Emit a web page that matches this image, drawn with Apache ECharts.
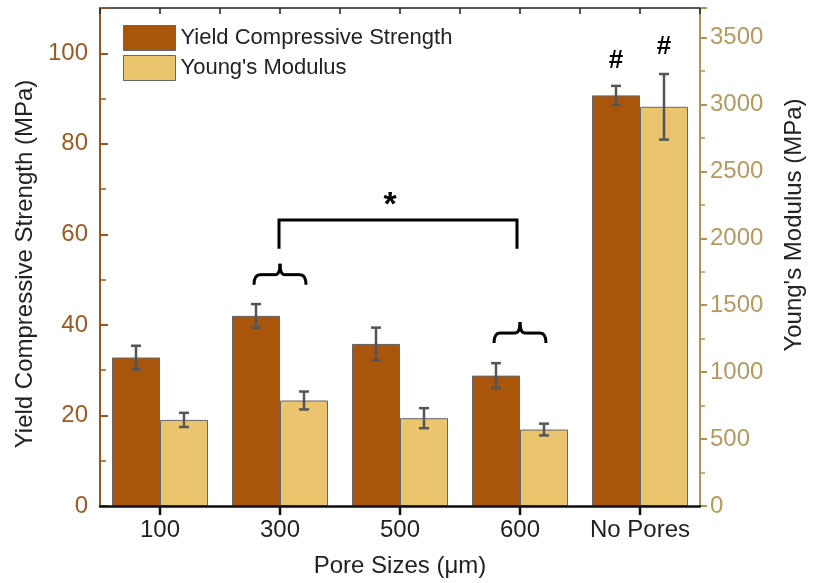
<!DOCTYPE html>
<html>
<head>
<meta charset="utf-8">
<script src="https://cdn.jsdelivr.net/npm/echarts@6/dist/echarts.min.js"></script>
<style>
  html, body { margin: 0; padding: 0; background: #fff; }
  #chart { width: 814px; height: 583px; }
</style>
</head>
<body>
<div id="chart"></div>
<script>
// data
const categories = ['100', '300', '500', '600', 'No Pores']
const yieldStrength = [32.8, 42.0, 35.8, 28.8, 90.7]
const yieldErr = [2.6, 2.6, 3.6, 2.75, 2.1]
const youngModulus = [643, 788, 656, 571, 2982]
const youngErr = [53, 67, 75, 44, 245]
const yieldMarks = ['', '', '', '', '#']
const youngMarks = ['', '', '', '', '#']

// significance annotations (category index, MPa on left axis)
const bracketCats = [1, 3]
const bracketLevels = [63.2, 56.8]
const braceCats = [1, 3]
const braceLevels = [51.1, 38.2]

const BROWN = '#AA550C'
const YELLOW = '#EBC56D'
const FONT = 'Liberation Sans, Arial, sans-serif'

const chart = echarts.init(document.getElementById('chart'))

// 误差棒: side = -1 left bar, +1 right bar
const errorBars = (vals, errs, side, yIdx) => ({
  type: 'custom',
  yAxisIndex: yIdx,
  z: 5,
  silent: true,
  data: vals.map((v, i) => [i, v - errs[i], v + errs[i]]),
  renderItem: (params, api) => {
    const band = api.size([1, 0])[0]
    const off = side * band * 0.2
    const lo = api.coord([api.value(0), api.value(1)])
    const hi = api.coord([api.value(0), api.value(2)])
    const x = lo[0] + off
    const st = { stroke: '#555', lineWidth: 2.5 }
    return {
      type: 'group',
      children: [
        { type: 'line', shape: { x1: x, y1: lo[1], x2: x, y2: hi[1] }, style: st },
        { type: 'line', shape: { x1: x - 5, y1: lo[1], x2: x + 5, y2: lo[1] }, style: st },
        { type: 'line', shape: { x1: x - 5, y1: hi[1], x2: x + 5, y2: hi[1] }, style: st }
      ]
    }
  }
})

const barData = (vals, marks, dist) => vals.map((v, i) => marks[i]
  ? { value: v, label: { show: true, formatter: marks[i], position: 'top', distance: dist,
      fontSize: 26, fontWeight: 'bold', color: '#000', fontFamily: FONT } }
  : v)

const option = {
  animation: false,
  textStyle: { fontFamily: FONT },
  grid: { left: 100, right: 112, top: 8, bottom: 77 },
  legend: {
    orient: 'vertical',
    left: 118,
    top: 20,
    icon: 'rect',
    itemWidth: 52,
    itemHeight: 25,
    itemGap: 4,
    itemStyle: { borderColor: '#666', borderWidth: 1 },
    textStyle: { fontSize: 22, color: '#222', fontFamily: FONT },
    data: ['Yield Compressive Strength', "Young's Modulus"]
  },
  xAxis: [
    {
      type: 'category',
      data: categories,
      position: 'bottom',
      z: 10,
      axisLine: { onZero: false, lineStyle: { color: '#111', width: 2.5 } },
      axisTick: { show: false },
      axisLabel: { interval: 0, fontSize: 24, color: '#222', margin: 12 },
      name: 'Pore Sizes (μm)',
      nameLocation: 'middle',
      nameGap: 48,
      nameTextStyle: { fontSize: 24, color: '#222' }
    },
    {
      type: 'value',
      position: 'top',
      min: -0.5,
      max: 4.5,
      interval: 0.5,
      axisLine: { onZero: false, lineStyle: { color: '#222', width: 1.5 } },
      axisTick: { inside: true, length: 6, lineStyle: { color: '#222', width: 1.5 } },
      axisLabel: { show: false },
      splitLine: { show: false }
    }
  ],
  yAxis: [
    {
      type: 'value',
      min: 0,
      max: 110,
      interval: 20,
      position: 'left',
      axisLine: { show: true, onZero: false, lineStyle: { color: '#9B5523', width: 2 } },
      axisTick: { show: true, inside: true, length: 8, lineStyle: { color: '#9B5523', width: 2 } },
      minorTick: { show: true, splitNumber: 2, length: 6, lineStyle: { color: '#9B5523', width: 1.5 } },
      axisLabel: { fontSize: 24, color: '#9C5A22', margin: 12,
        formatter: v => (v > 100 ? '' : v) },
      splitLine: { show: false },
      name: 'Yield Compressive Strength (MPa)',
      nameLocation: 'middle',
      nameGap: 62,
      nameTextStyle: { fontSize: 24, color: '#222', padding: [0, 14, 0, 0] }
    },
    {
      type: 'value',
      min: 0,
      max: 3720,
      interval: 500,
      position: 'right',
      axisLine: { show: true, onZero: false, lineStyle: { color: '#B0925A', width: 2 } },
      axisTick: { show: true, length: 7, lineStyle: { color: '#B0925A', width: 2 } },
      minorTick: { show: true, splitNumber: 2, length: 5, lineStyle: { color: '#B0925A', width: 1.5 } },
      axisLabel: { fontSize: 24, color: '#B39A60', margin: 10,
        formatter: v => (v > 3500 ? '' : v) },
      splitLine: { show: false },
      name: "Young's Modulus (MPa)",
      nameLocation: 'middle',
      nameGap: 82,
      nameRotate: 90,
      nameTextStyle: { fontSize: 24, color: '#222', padding: [0, 0, 0, 64] }
    }
  ],
  series: [
    {
      name: 'Yield Compressive Strength',
      type: 'bar',
      yAxisIndex: 0,
      barGap: 0,
      barCategoryGap: '20%',
      data: barData(yieldStrength, yieldMarks, 22),
      itemStyle: { color: BROWN, borderColor: '#666', borderWidth: 1 }
    },
    {
      name: "Young's Modulus",
      type: 'bar',
      yAxisIndex: 1,
      barGap: 0,
      barCategoryGap: '20%',
      data: barData(youngModulus, youngMarks, 47),
      itemStyle: { color: YELLOW, borderColor: '#666', borderWidth: 1 }
    },
    errorBars(yieldStrength, yieldErr, -1, 0),
    errorBars(youngModulus, youngErr, 1, 1),
    {
      // 底部刻度 (类目中心)
      type: 'custom',
      yAxisIndex: 0,
      silent: true,
      clip: false,
      z: 10,
      data: categories.map((c, i) => [i, 0]),
      renderItem: (params, api) => {
        const p = api.coord([api.value(0), 0])
        return { type: 'line', shape: { x1: p[0], y1: p[1], x2: p[0], y2: p[1] + 9 },
          style: { stroke: '#111', lineWidth: 2.5 } }
      }
    },
    {
      // 显著性括号 + 星号
      type: 'custom',
      yAxisIndex: 0,
      silent: true,
      z: 6,
      data: [[bracketCats[0], bracketCats[1], bracketLevels[0], bracketLevels[1]]],
      renderItem: (params, api) => {
        const a = api.coord([api.value(0), api.value(2)])
        const b = api.coord([api.value(1), api.value(2)])
        const legY = api.coord([api.value(0), api.value(3)])[1]
        const st = { stroke: '#000', lineWidth: 3 }
        return {
          type: 'group',
          children: [
            { type: 'polyline', shape: { points: [[a[0] - 1, legY], [a[0] - 1, a[1]], [b[0] - 3, b[1]], [b[0] - 3, legY]] }, style: Object.assign({ fill: null }, st) },
            { type: 'text', x: (a[0] + b[0]) / 2 - 10, y: a[1] + 3,
              style: { text: '*', fontSize: 34, fontWeight: 'bold', fill: '#000', fontFamily: FONT, align: 'center', verticalAlign: 'bottom' } }
          ]
        }
      }
    },
    {
      // 花括号
      type: 'custom',
      yAxisIndex: 0,
      silent: true,
      z: 6,
      data: braceCats.map((c, i) => [c, braceLevels[i]]),
      renderItem: (params, api) => {
        const p = api.coord([api.value(0), api.value(1)])
        const st = { stroke: '#000', lineWidth: 3, fill: null }
        return {
          type: 'group',
          x: p[0],
          y: p[1],
          children: [
            { type: 'bezierCurve', shape: { x1: -26, y1: 10, cpx1: -26, cpy1: 0, x2: -20, y2: 0 }, style: st },
            { type: 'line', shape: { x1: -20, y1: 0, x2: -5, y2: 0 }, style: st },
            { type: 'bezierCurve', shape: { x1: -5, y1: 0, cpx1: 0, cpy1: 0, x2: 0, y2: -11 }, style: st },
            { type: 'bezierCurve', shape: { x1: 0, y1: -11, cpx1: 0, cpy1: 0, x2: 5, y2: 0 }, style: st },
            { type: 'line', shape: { x1: 5, y1: 0, x2: 20, y2: 0 }, style: st },
            { type: 'bezierCurve', shape: { x1: 20, y1: 0, cpx1: 26, cpy1: 0, x2: 26, y2: 10 }, style: st }
          ]
        }
      }
    }
  ]
}

chart.setOption(option)
</script>
</body>
</html>
